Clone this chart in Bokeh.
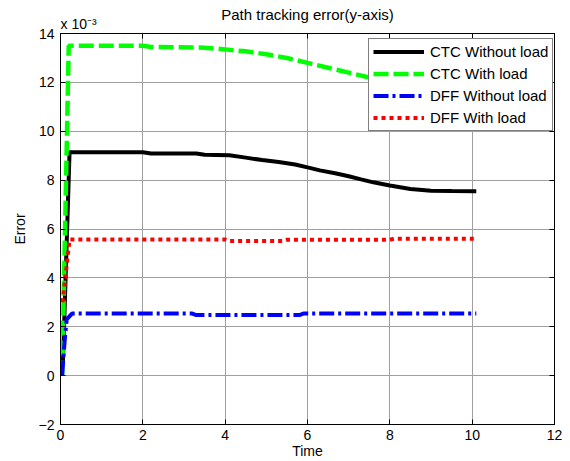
from bokeh.plotting import figure
from bokeh.models import (Legend, LegendItem, LinearAxis, FixedTicker, Title,
                          Range1d, CustomJSTickFormatter)
from bokeh.embed import file_html
from bokeh.resources import INLINE

# ---- data ----
x_ticks = [0, 2, 4, 6, 8, 10, 12]
y_ticks = [-2, 0, 2, 4, 6, 8, 10, 12, 14]

ctc_nl_t = [0.06, 0.22, 2.0, 2.2, 3.3, 3.5, 4.1, 4.5, 4.9, 5.3, 5.7, 6.0, 6.3,
            6.7, 7.0, 7.3, 7.6, 8.0, 8.5, 9.0, 9.5, 10.1]
ctc_nl_v = [0.6, 9.14, 9.14, 9.09, 9.09, 9.04, 9.02, 8.92, 8.82, 8.74, 8.64,
            8.52, 8.40, 8.27, 8.16, 8.03, 7.91, 7.78, 7.64, 7.57, 7.55, 7.54]

ctc_wl_t = [0.04, 0.2, 2.0, 2.2, 3.5, 4.0, 4.5, 5.0, 5.5, 6.0, 6.5, 7.0, 7.5,
            8.0, 8.5, 9.0, 9.5, 10.1]
ctc_wl_v = [0.0, 13.5, 13.5, 13.45, 13.42, 13.35, 13.27, 13.15, 13.0, 12.8,
            12.6, 12.4, 12.2, 12.0, 11.85, 11.7, 11.6, 11.55]

dff_nl_t = [0.04, 0.1, 0.15, 0.28, 3.2, 3.3, 5.8, 5.9, 10.1]
dff_nl_v = [0.0, 1.4, 2.3, 2.54, 2.54, 2.48, 2.48, 2.54, 2.54]

dff_wl_t = [0.05, 0.22, 4.0, 4.1, 5.4, 5.5, 8.0, 8.1, 10.1]
dff_wl_v = [3.0, 5.57, 5.57, 5.51, 5.51, 5.56, 5.56, 5.6, 5.6]

series_labels = ["CTC Without load", "CTC With load", "DFF Without load", "DFF With load"]
title_text = "Path tracking error(y-axis)"
scale_text = "x 10\u207b\u00b3"
x_label = "Time"
y_label = "Error"

FONT = "Liberation Sans"

p = figure(width=570, height=461, x_range=Range1d(0, 12), y_range=Range1d(-2, 14),
           output_backend="svg", toolbar_location=None,
           min_border_left=60, min_border_right=16, min_border_top=33, min_border_bottom=37)
p.background_fill_color = "white"
p.border_fill_color = "white"
p.outline_line_color = "black"

# titles (outermost: main title; inner: scale factor)
p.title.text = title_text
p.title.align = "center"
p.title.text_font = FONT
p.title.text_font_size = "15px"
p.title.text_font_style = "normal"
p.title.text_color = "black"
p.title.text_line_height = 1.5
p.title.standoff = -20

def style_axis(ax, ticks, labels=True):
    ax.ticker = FixedTicker(ticks=ticks)
    ax.major_tick_in = 5
    ax.major_tick_out = 0
    ax.minor_tick_line_color = None
    ax.axis_line_color = "black"
    ax.axis_line_width = 1
    ax.major_tick_line_color = "black"
    ax.major_label_text_font = FONT
    ax.major_label_text_font_size = "14px"
    ax.major_label_text_color = "black"
    if not labels:
        ax.formatter = CustomJSTickFormatter(code="return ''")
        ax.major_label_standoff = 0
        ax.major_label_text_font_size = "0px"

style_axis(p.xaxis[0], x_ticks)
style_axis(p.yaxis[0], y_ticks)
p.xaxis[0].major_label_standoff = 5
p.yaxis[0].major_label_standoff = 6
for ax, lab, so in ((p.xaxis[0], x_label, 0), (p.yaxis[0], y_label, 8)):
    ax.axis_label = lab
    ax.axis_label_text_font = FONT
    ax.axis_label_text_font_size = "14px"
    ax.axis_label_text_font_style = "normal"
    ax.axis_label_text_color = "black"
    ax.axis_label_standoff = so

top_ax = LinearAxis()
style_axis(top_ax, x_ticks, labels=False)
p.add_layout(top_ax, "above")
right_ax = LinearAxis()
style_axis(right_ax, y_ticks, labels=False)
p.add_layout(right_ax, "right")

scale_title = Title(text=scale_text, align="left", text_font=FONT, text_font_size="14px",
                    text_font_style="normal", text_color="black", standoff=3)
p.add_layout(scale_title, "above")

p.xgrid.ticker = FixedTicker(ticks=x_ticks)
p.ygrid.ticker = FixedTicker(ticks=y_ticks)
for g in (p.xgrid, p.ygrid):
    g.grid_line_color = "#a0a0a0"
    g.grid_line_width = 1

r1 = p.line(ctc_nl_t, ctc_nl_v, line_color="black", line_width=4)
r2 = p.line(ctc_wl_t, ctc_wl_v, line_color="#00ff00", line_width=4.5, line_dash="15 5")
r3 = p.line(dff_nl_t, dff_nl_v, line_color="#0000ff", line_width=4, line_dash="15 4 3 4")
r4 = p.line(dff_wl_t, dff_wl_v, line_color="#ff0000", line_width=4, line_dash="4 4")

legend = Legend(items=[LegendItem(label=series_labels[0], renderers=[r1]),
                       LegendItem(label=series_labels[1], renderers=[r2]),
                       LegendItem(label=series_labels[2], renderers=[r3]),
                       LegendItem(label=series_labels[3], renderers=[r4])],
                location=(308, 293))
legend.label_text_font = FONT
legend.label_text_font_size = "15px"
legend.label_text_color = "black"
legend.glyph_width = 51
legend.glyph_height = 17
legend.label_height = 17
legend.label_standoff = 6
legend.spacing = 5
legend.padding = 4
legend.margin = 0
legend.border_line_color = "black"
legend.border_line_width = 1
legend.background_fill_color = "white"
legend.background_fill_alpha = 1.0
p.add_layout(legend)

open("out.html", "w").write(file_html(p, INLINE))
